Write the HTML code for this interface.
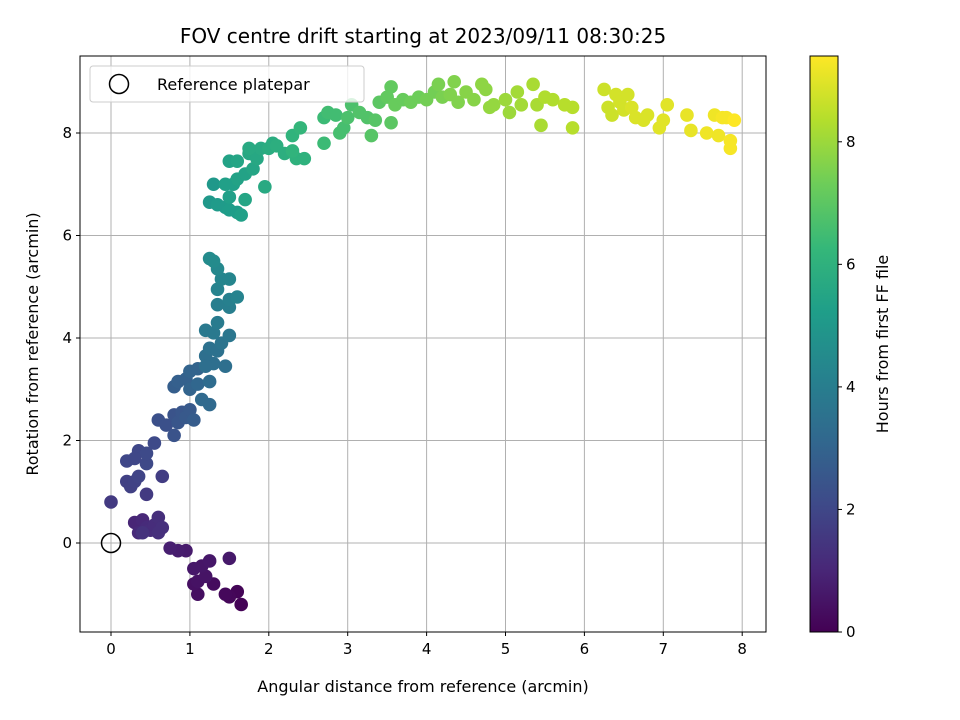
<!DOCTYPE html>
<html><head><meta charset="utf-8"><style>body{margin:0;background:#fff}svg{display:block;font-family:"DejaVu Sans","Liberation Sans",sans-serif}</style></head>
<body>
<svg id="c" width="960" height="720"></svg>
<script>
const xs=[1.65,1.6,1.5,1.45,1.3,1.1,1.05,1.1,1.2,1.15,1.05,1.25,1.5,0.95,0.85,0.75,
0.3,0.4,0.35,0.45,0.5,0.55,0.6,0.65,0.6,0.4,
0,0.45,0.65,0.2,0.25,0.3,0.35,0.2,0.35,0.45,0.45,0.55,0.3,
0.6,0.7,0.8,0.8,0.85,0.9,0.95,1.0,1.05,0.8,0.85,0.95,1.0,1.1,1.0,1.1,1.15,1.25,1.25,1.3,1.2,1.25,1.35,1.4,1.5,1.2,1.3,1.35,1.35,1.5,1.5,1.6,1.35,1.4,1.5,1.35,1.25,1.3,1.45,1.2,
1.25,1.3,1.35,1.45,1.5,1.6,1.65,1.5,1.55,1.6,1.7,1.8,1.45,1.5,1.6,1.75,1.7,1.85,1.9,2.0,2.05,2.1,1.95,2.2,2.35,2.45,2.3,2.3,2.4,1.75,
2.7,2.7,2.75,2.85,2.9,2.95,3.0,3.05,3.15,3.25,3.35,3.3,3.55,3.4,3.5,3.55,3.6,3.7,3.8,3.9,4.0,4.1,4.15,4.2,4.3,4.35,4.4,4.5,4.6,4.7,4.75,4.8,4.85,
5.0,5.05,5.15,5.2,5.35,5.4,5.45,5.5,5.6,5.75,5.85,5.85,6.25,6.3,6.35,6.4,6.45,6.5,6.55,6.6,6.65,6.75,6.8,6.95,7.0,7.05,7.3,7.35,7.55,7.65,7.7,7.75,7.8,7.85,7.85,7.9];
const ys=[-1.2,-0.95,-1.05,-1.0,-0.8,-1.0,-0.8,-0.75,-0.65,-0.45,-0.5,-0.35,-0.3,-0.15,-0.15,-0.1,
0.4,0.45,0.2,0.3,0.25,0.35,0.5,0.3,0.2,0.2,
0.8,0.95,1.3,1.2,1.1,1.2,1.3,1.6,1.8,1.55,1.75,1.95,1.65,
2.4,2.3,2.5,2.1,2.35,2.55,2.45,2.6,2.4,3.05,3.15,3.2,3.35,3.4,3.0,3.1,2.8,2.7,3.15,3.5,3.65,3.8,3.75,3.9,4.05,4.15,4.1,4.3,4.65,4.6,4.75,4.8,4.95,5.15,5.15,5.35,5.55,5.5,3.45,3.45,
6.65,7.0,6.6,6.55,6.5,6.45,6.4,6.75,7.0,7.1,7.2,7.3,7.0,7.45,7.45,7.6,6.7,7.5,7.7,7.7,7.8,7.75,6.95,7.6,7.5,7.5,7.65,7.95,8.1,7.7,
7.8,8.3,8.4,8.35,8.0,8.1,8.3,8.55,8.4,8.3,8.25,7.95,8.2,8.6,8.7,8.9,8.55,8.65,8.6,8.7,8.65,8.8,8.95,8.7,8.75,9.0,8.6,8.8,8.65,8.95,8.85,8.5,8.55,
8.65,8.4,8.8,8.55,8.95,8.55,8.15,8.7,8.65,8.55,8.5,8.1,8.85,8.5,8.35,8.75,8.6,8.45,8.75,8.5,8.3,8.25,8.35,8.1,8.25,8.55,8.35,8.05,8.0,8.35,7.95,8.3,8.3,7.85,7.7,8.25];
const ts=[0.05,0.1,0.15,0.2,0.3,0.35,0.4,0.45,0.5,0.55,0.6,0.6,0.65,0.7,0.75,0.8,
1.0,1.05,1.1,1.15,1.2,1.2,1.25,1.3,1.3,1.35,
1.6,1.6,1.7,1.8,1.8,1.85,1.9,2.0,2.0,2.05,2.1,2.1,2.0,
2.3,2.3,2.4,2.4,2.5,2.5,2.6,2.6,2.7,2.8,2.85,2.9,3.0,3.0,3.0,3.1,3.2,3.2,3.3,3.4,3.4,3.5,3.5,3.6,3.7,3.8,3.8,3.9,4.0,4.0,4.1,4.2,4.2,4.3,4.3,4.4,4.5,4.5,3.4,3.4,
5.0,5.0,5.1,5.1,5.2,5.2,5.3,5.3,5.3,5.4,5.4,5.5,5.3,5.4,5.5,5.6,5.5,5.6,5.7,5.8,5.8,5.9,5.7,5.9,6.0,6.0,6.1,6.1,6.2,5.7,
6.4,6.4,6.5,6.5,6.6,6.6,6.7,6.7,6.8,6.8,6.9,6.9,7.0,7.0,7.1,7.1,7.2,7.2,7.3,7.3,7.4,7.4,7.5,7.5,7.6,7.6,7.6,7.7,7.7,7.8,7.8,7.9,7.9,
8.0,8.0,8.1,8.1,8.2,8.2,8.2,8.3,8.3,8.4,8.4,8.4,8.7,8.7,8.7,8.8,8.8,8.8,8.8,8.9,8.9,8.9,8.9,9.0,9.0,9.0,9.1,9.1,9.2,9.2,9.2,9.3,9.3,9.3,9.3,9.4];
const xTicks=[0,1,2,3,4,5,6,7,8];
const yTicks=[0,2,4,6,8];
const cTicks=[0,2,4,6,8];

const NS="http://www.w3.org/2000/svg",svg=document.getElementById('c');
const L=80,R=766,T=56,B=632;
const X=v=>111+v*78.9, Y=v=>543-v*51.25;
const CMIN=0,CMAX=9.4, CB=v=>632-(v-CMIN)/(CMAX-CMIN)*576;
const vir=[[68,1,84],[72,40,120],[62,74,137],[49,104,142],[38,130,142],[31,158,137],[53,183,121],[109,205,89],[180,222,44],[253,231,37]];
function cmap(v){let f=Math.max(0,Math.min(1,(v-CMIN)/(CMAX-CMIN)))*9,i=Math.min(8,Math.floor(f)),r=f-i;const a=vir[i],b=vir[i+1];return `rgb(${a.map((c,k)=>Math.round(c+(b[k]-c)*r)).join(',')})`;}
function el(t,at,txt){const e=document.createElementNS(NS,t);for(const k in at)e.setAttribute(k,at[k]);if(txt!=null)e.textContent=txt;svg.appendChild(e);return e;}
let e;
e=el('rect',{x:L,y:T,width:R-L,height:B-T,fill:'#fff'});


xTicks.forEach(v=>{
e=el('line',{x1:X(v),x2:X(v),y1:T,y2:B,stroke:'#b0b0b0','stroke-width':1});


el('line',{x1:X(v),x2:X(v),y1:B,y2:B+4,stroke:'#000'});
e=el('text',{x:X(v),y:B+22,'text-anchor':'middle','font-size':15},v);


});
yTicks.forEach(v=>{
e=el('line',{x1:L,x2:R,y1:Y(v),y2:Y(v),stroke:'#b0b0b0','stroke-width':1});


el('line',{x1:L-4,x2:L,y1:Y(v),y2:Y(v),stroke:'#000'});
e=el('text',{x:L-8,y:Y(v)+5,'text-anchor':'end','font-size':15},v);


});
xs.forEach((x,i)=>{
e=el('circle',{cx:X(x),cy:Y(ys[i]),r:6.8,fill:cmap(ts[i])});


});
e=el('circle',{cx:X(0),cy:Y(0),r:9.5,fill:'none',stroke:'#000','stroke-width':1.5});


e=el('rect',{x:L,y:T,width:R-L,height:B-T,fill:'none',stroke:'#000','stroke-width':1});


e=el('rect',{x:90,y:66,width:274,height:36,rx:3,fill:'#fff','fill-opacity':0.8,stroke:'#ccc'});


el('circle',{cx:119,cy:84,r:9.5,fill:'none',stroke:'#000','stroke-width':1.5});
e=el('text',{x:157,y:90,'font-size':16},'Reference platepar');


e=el('text',{x:423,y:43,'text-anchor':'middle','font-size':20},'FOV centre drift starting at 2023/09/11 08:30:25');


e=el('text',{x:423,y:692,'text-anchor':'middle','font-size':16},'Angular distance from reference (arcmin)');


e=el('text',{x:38,y:344,'text-anchor':'middle','font-size':16,transform:'rotate(-90 38 344)'},'Rotation from reference (arcmin)');


const defs=el('defs',{});const g=document.createElementNS(NS,'linearGradient');g.setAttribute('id','vg');g.setAttribute('x1','0');g.setAttribute('y1','1');g.setAttribute('x2','0');g.setAttribute('y2','0');
vir.forEach((c,i)=>{const s=document.createElementNS(NS,'stop');s.setAttribute('offset',i/9);s.setAttribute('stop-color',`rgb(${c})`);g.appendChild(s);});defs.appendChild(g);
e=el('rect',{x:810,y:56,width:28,height:576,fill:'url(#vg)',stroke:'#000','stroke-width':1});


cTicks.forEach(v=>{
el('line',{x1:838,x2:842,y1:CB(v),y2:CB(v),stroke:'#000'});
e=el('text',{x:846,y:CB(v)+5,'font-size':15},v);


});
e=el('text',{x:888,y:344,'text-anchor':'middle','font-size':16,transform:'rotate(-90 888 344)'},'Hours from first FF file');


</script>
</body></html>
